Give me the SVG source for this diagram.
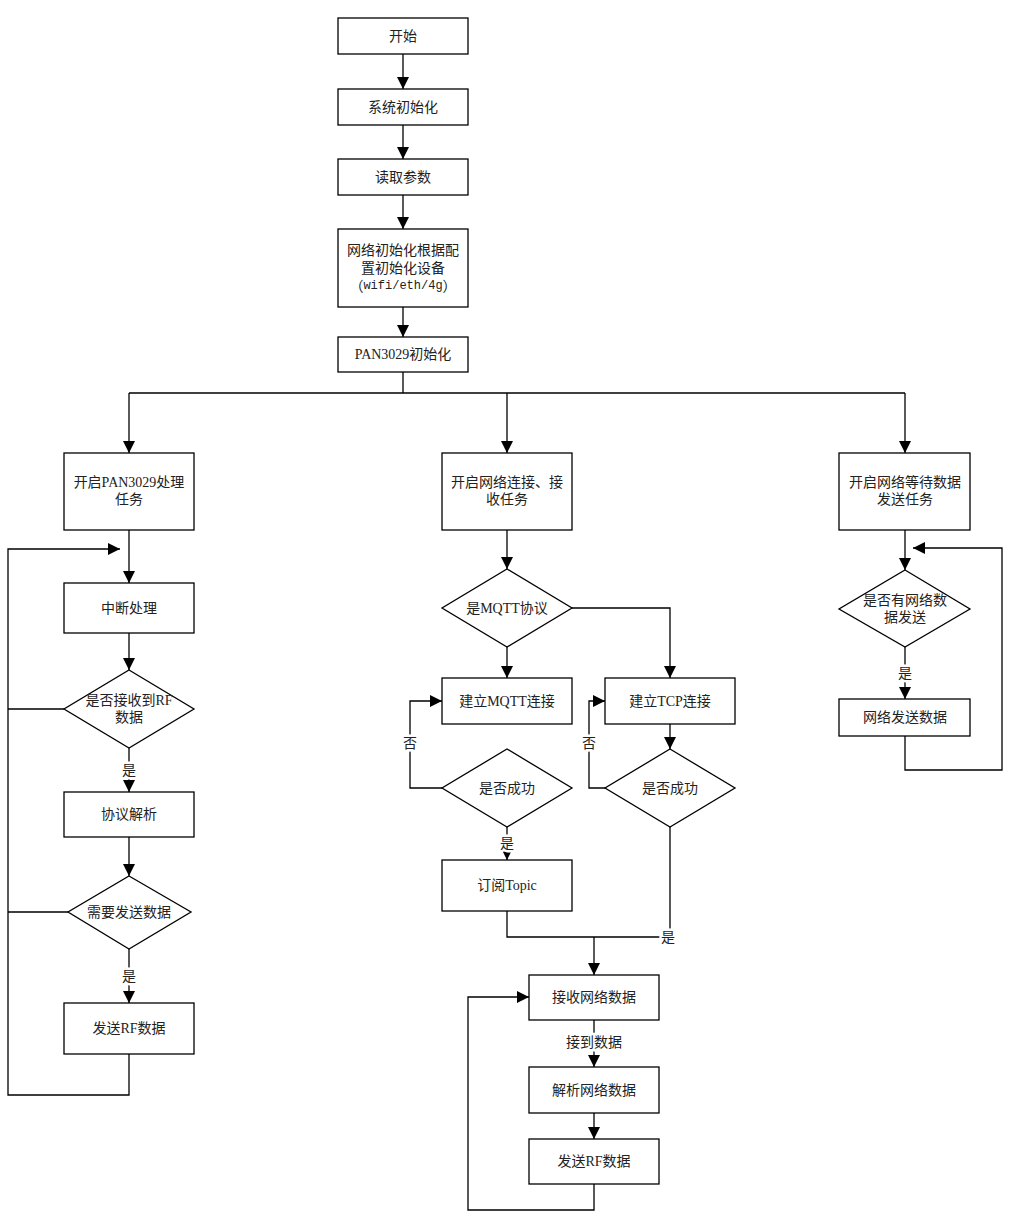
<svg xmlns="http://www.w3.org/2000/svg" width="1015" height="1231" viewBox="0 0 1015 1231">
<style>
.n{fill:#fff;stroke:#000;stroke-width:1.3}
.t{font-family:"Liberation Serif","Noto Sans CJK SC",serif;font-size:14px;fill:#222;text-anchor:middle;dominant-baseline:central}
.l{font-family:"Liberation Serif","Noto Sans CJK SC",serif;font-size:14px;fill:#222;text-anchor:middle;dominant-baseline:central;stroke:#fff;stroke-width:5;paint-order:stroke}
.m{font-family:"Liberation Mono",monospace;font-size:12px}
.c{fill:none;stroke:#000;stroke-width:1.3}
.a{marker-end:url(#ar)}
</style>
<defs>
<marker id="ar" markerUnits="userSpaceOnUse" markerWidth="12" markerHeight="12" viewBox="0 0 12 12" refX="12" refY="6" orient="auto">
<path d="M0,0 L12,6 L0,12 Z" fill="#000"/>
</marker>
</defs>
<rect width="1015" height="1231" fill="#fff"/>
<g id="connectors">
<path class="c a" d="M403,54 V89"/>
<path class="c a" d="M403,125 V159"/>
<path class="c a" d="M403,195 V229"/>
<path class="c a" d="M403,307 V337"/>
<path class="c" d="M403,372 V393 M129,393 H905"/>
<path class="c a" d="M129,393 V453"/>
<path class="c a" d="M507,393 V453"/>
<path class="c a" d="M905,393 V453"/>
<path class="c a" d="M129,530 V583"/>
<path class="c a" d="M129,1054 V1095 H8 V549 H120"/>
<path class="c" d="M64,709 H8 M68,912 H8"/>
<path class="c a" d="M129,633 V670"/>
<path class="c a" d="M129,748 V792"/>
<path class="c a" d="M129,837 V876"/>
<path class="c a" d="M129,949 V1003"/>
<path class="c a" d="M507,530 V569"/>
<path class="c a" d="M507,647 V678"/>
<path class="c a" d="M572,608 H670 V678"/>
<path class="c a" d="M670,724 V749"/>
<path class="c a" d="M442,788 H410 V701 H442"/>
<path class="c a" d="M605,788 H589 V701 H605"/>
<path class="c a" d="M507,827 V860"/>
<path class="c" d="M507,911 V937 H670 V827"/>
<path class="c a" d="M594,937 V975"/>
<path class="c a" d="M594,1020 V1067"/>
<path class="c a" d="M594,1113 V1139"/>
<path class="c a" d="M594,1184 V1210 H468 V997 H529"/>
<path class="c a" d="M905,530 V570"/>
<path class="c a" d="M905,647 V699"/>
<path class="c a" d="M905,736 V770 H1002 V548 H913"/>
<text class="l" x="129" y="770">是</text>
<text class="l" x="129" y="976">是</text>
<text class="l" x="410" y="743">否</text>
<text class="l" x="589" y="743">否</text>
<text class="l" x="507" y="843">是</text>
<text class="l" x="668" y="937">是</text>
<text class="l" x="594" y="1042">接到数据</text>
<text class="l" x="905" y="673">是</text>
</g>
<g id="start"><rect class="n" x="338" y="18" width="130" height="36"/><text class="t" x="403" y="36">开始</text></g>
<g id="sysinit"><rect class="n" x="338" y="89" width="130" height="36"/><text class="t" x="403" y="107">系统初始化</text></g>
<g id="readparam"><rect class="n" x="338" y="159" width="130" height="36"/><text class="t" x="403" y="177">读取参数</text></g>
<g id="netinit"><rect class="n" x="338" y="229" width="130" height="78"/><text class="t" x="403" y="250">网络初始化根据配</text><text class="t" x="403" y="268">置初始化设备</text><text class="t" x="403" y="286">（<tspan class="m">wifi/eth/4g</tspan>）</text></g>
<g id="paninit"><rect class="n" x="338" y="337" width="130" height="35"/><text class="t" x="403" y="354">PAN3029初始化</text></g>
<g id="pantask"><rect class="n" x="64" y="453" width="130" height="77"/><text class="t" x="129" y="482">开启PAN3029处理</text><text class="t" x="129" y="499">任务</text></g>
<g id="irq"><rect class="n" x="64" y="583" width="130" height="50"/><text class="t" x="129" y="608">中断处理</text></g>
<g id="rfrecv"><polygon class="n" points="129,670 194,709 129,748 64,709"/><text class="t" x="129" y="700">是否接收到RF</text><text class="t" x="129" y="717">数据</text></g>
<g id="parse"><rect class="n" x="64" y="792" width="130" height="45"/><text class="t" x="129" y="814">协议解析</text></g>
<g id="needsend"><polygon class="n" points="129,876 191,912 129,949 68,912"/><text class="t" x="129" y="912">需要发送数据</text></g>
<g id="sendrf1"><rect class="n" x="64" y="1003" width="130" height="51"/><text class="t" x="129" y="1028">发送RF数据</text></g>
<g id="nettask"><rect class="n" x="442" y="453" width="130" height="77"/><text class="t" x="507" y="482">开启网络连接、接</text><text class="t" x="507" y="499">收任务</text></g>
<g id="ismqtt"><polygon class="n" points="507,569 572,608 507,647 442,608"/><text class="t" x="507" y="608">是MQTT协议</text></g>
<g id="mqttconn"><rect class="n" x="442" y="678" width="130" height="46"/><text class="t" x="507" y="701">建立MQTT连接</text></g>
<g id="tcpconn"><rect class="n" x="605" y="678" width="130" height="46"/><text class="t" x="670" y="701">建立TCP连接</text></g>
<g id="mqttok"><polygon class="n" points="507,749 572,788 507,827 442,788"/><text class="t" x="507" y="788">是否成功</text></g>
<g id="tcpok"><polygon class="n" points="670,749 735,788 670,827 605,788"/><text class="t" x="670" y="788">是否成功</text></g>
<g id="subscribe"><rect class="n" x="442" y="860" width="130" height="51"/><text class="t" x="507" y="885">订阅Topic</text></g>
<g id="recvnet"><rect class="n" x="529" y="975" width="130" height="45"/><text class="t" x="594" y="997">接收网络数据</text></g>
<g id="parsenet"><rect class="n" x="529" y="1067" width="130" height="46"/><text class="t" x="594" y="1090">解析网络数据</text></g>
<g id="sendrf2"><rect class="n" x="529" y="1139" width="130" height="45"/><text class="t" x="594" y="1161">发送RF数据</text></g>
<g id="sendtask"><rect class="n" x="839" y="453" width="131" height="77"/><text class="t" x="905" y="482">开启网络等待数据</text><text class="t" x="905" y="499">发送任务</text></g>
<g id="hasdata"><polygon class="n" points="905,570 970,609 905,647 839,609"/><text class="t" x="905" y="600">是否有网络数</text><text class="t" x="905" y="617">据发送</text></g>
<g id="netsend"><rect class="n" x="839" y="699" width="131" height="37"/><text class="t" x="905" y="717">网络发送数据</text></g>
</svg>
